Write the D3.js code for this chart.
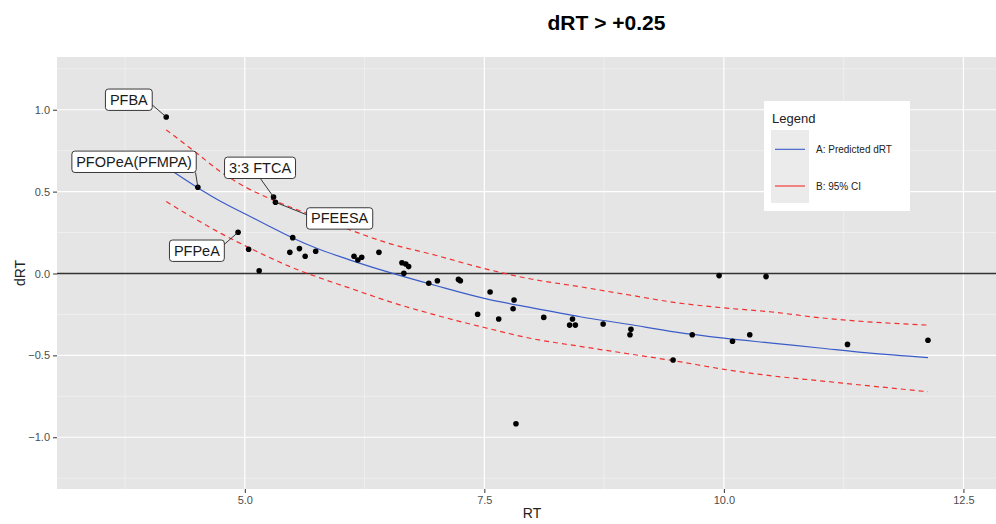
<!DOCTYPE html>
<html>
<head>
<meta charset="utf-8">
<script src="https://cdn.jsdelivr.net/npm/d3@7"></script>
<style>
  body { margin: 0; background: #fff; }
  svg { display: block; font-family: "Liberation Sans", Arial, sans-serif; }
</style>
</head>
<body>
<svg id="svg" width="996" height="524"></svg>
<script>
// measured points: retention time and dRT
var rtValues = [4.18, 4.51, 5.30, 5.32, 4.93, 5.04, 5.15, 5.50, 5.47, 5.57, 5.63, 5.74,
    6.14, 6.18, 6.22, 6.40, 6.64, 6.68, 6.71, 6.66, 6.92, 7.01, 7.23, 7.25, 7.56, 7.43,
    7.65, 7.81, 7.80, 8.12, 8.42, 8.39, 8.45, 8.74, 9.03, 9.02, 9.47, 9.67, 9.95, 10.09,
    10.27, 10.44, 11.29, 12.13, 7.83];
var drtValues = [0.956, 0.527, 0.467, 0.435, 0.252, 0.148, 0.017, 0.219, 0.129, 0.152, 0.105, 0.136,
    0.105, 0.082, 0.099, 0.129, 0.066, 0.058, 0.042, 0.001, -0.060, -0.044, -0.036, -0.044, -0.113, -0.249,
    -0.278, -0.162, -0.215, -0.268, -0.278, -0.315, -0.315, -0.308, -0.341, -0.374, -0.528, -0.374, -0.013, -0.414,
    -0.374, -0.019, -0.433, -0.408, -0.918];

// labelled compounds (index into the point arrays)
var labelNames = ['PFBA', 'PFOPeA(PFMPA)', '3:3 FTCA', 'PFEESA', 'PFPeA'];
var labelIndex = [0, 1, 2, 3, 4];

// fitted curve and 95% interval
var fitRT = [4.18, 4.5, 4.75, 5.0, 5.25, 5.5, 5.75, 6.1, 6.5, 7.0, 7.5, 8.0, 8.5, 9.0, 9.5, 10.0, 10.5, 11.0, 11.5, 12.13];
var fitPred = [0.65, 0.527, 0.44, 0.365, 0.29, 0.217, 0.154, 0.082, 0.008, -0.075, -0.152, -0.21, -0.264, -0.31, -0.358, -0.395, -0.425, -0.455, -0.485, -0.514];
var fitUpper = [0.877, 0.734, 0.62, 0.53, 0.46, 0.40, 0.345, 0.266, 0.185, 0.11, 0.03, -0.035, -0.081, -0.13, -0.178, -0.21, -0.235, -0.27, -0.295, -0.315];
var fitLower = [0.439, 0.327, 0.245, 0.17, 0.10, 0.035, -0.02, -0.09, -0.17, -0.255, -0.33, -0.398, -0.445, -0.49, -0.535, -0.585, -0.625, -0.655, -0.685, -0.722];

var xTicks = [5.0, 7.5, 10.0, 12.5];
var xMinor = [3.75, 6.25, 8.75, 11.25];
var yTicks = [-1.0, -0.5, 0.0, 0.5, 1.0];
var yMinor = [-1.25, -0.75, -0.25, 0.25, 0.75, 1.25];

var legendLabels = ['A: Predicted dRT', 'B: 95% CI'];

// label box placement relative to its point (pixels): box centre, segment end
var labelLayout = [
    { box: [-37.4, -17.2], seg: [-14, -12] },
    { box: [-63.8, -25.4], seg: [-2.3, -14.6] },
    { box: [-13.5, -29.2], seg: [-13.3, -18.7] },
    { box: [64.2, 16.2], seg: [31.7, 12.7] },
    { box: [-41.2, 18.5], seg: [-14.4, 12.7] }
];

var svg = d3.select('#svg');
var panel = { left: 57, right: 996, top: 57, bottom: 489 };
var blue = '#3a5cc8', red = '#f2302f';

var x = d3.scaleLinear().domain([3.04, 12.84]).range([panel.left, panel.right]);
var y = d3.scaleLinear().domain([-1.316, 1.322]).range([panel.bottom, panel.top]);

// panel background
svg.append('rect')
    .attr('x', panel.left).attr('y', panel.top)
    .attr('width', panel.right - panel.left).attr('height', panel.bottom - panel.top)
    .attr('fill', '#e5e5e5');

var grid = svg.append('g');
grid.selectAll('.vminor').data(xMinor).enter().append('line')
    .attr('x1', x).attr('x2', x).attr('y1', panel.top).attr('y2', panel.bottom)
    .attr('stroke', '#f5f5f5').attr('stroke-width', 0.6);
grid.selectAll('.hminor').data(yMinor).enter().append('line')
    .attr('y1', y).attr('y2', y).attr('x1', panel.left).attr('x2', panel.right)
    .attr('stroke', '#f5f5f5').attr('stroke-width', 0.6);
grid.selectAll('.vmajor').data(xTicks).enter().append('line')
    .attr('x1', x).attr('x2', x).attr('y1', panel.top).attr('y2', panel.bottom)
    .attr('stroke', '#fff').attr('stroke-width', 1.2);
grid.selectAll('.hmajor').data(yTicks).enter().append('line')
    .attr('y1', y).attr('y2', y).attr('x1', panel.left).attr('x2', panel.right)
    .attr('stroke', '#fff').attr('stroke-width', 1.2);

// reference line at 0
svg.append('line')
    .attr('x1', panel.left).attr('x2', panel.right)
    .attr('y1', y(0)).attr('y2', y(0))
    .attr('stroke', '#333').attr('stroke-width', 1.3);

// axes
var xAxis = svg.append('g')
    .attr('transform', 'translate(0,' + panel.bottom + ')')
    .call(d3.axisBottom(x).tickValues(xTicks).tickFormat(d3.format('.1f')).tickSize(4).tickPadding(3));
var yAxis = svg.append('g')
    .attr('transform', 'translate(' + panel.left + ',0)')
    .call(d3.axisLeft(y).tickValues(yTicks).tickFormat(d3.format('.1f')).tickSize(4).tickPadding(3));
[xAxis, yAxis].forEach(function (a) {
    a.select('.domain').remove();
    a.selectAll('.tick line').attr('stroke', '#333');
    a.selectAll('.tick text').attr('fill', '#4d4d4d').style('font-size', '11px')
        .style('font-family', '"Liberation Sans", Arial, sans-serif');
});

// fitted lines
function curveLine(vals) {
    return d3.line()
        .x(function (d, i) { return x(fitRT[i]); })
        .y(function (d) { return y(d); })
        .curve(d3.curveMonotoneX)(vals);
}
svg.append('path').attr('d', curveLine(fitUpper))
    .attr('fill', 'none').attr('stroke', red).attr('stroke-width', 1.2).attr('stroke-dasharray', '5,4');
svg.append('path').attr('d', curveLine(fitLower))
    .attr('fill', 'none').attr('stroke', red).attr('stroke-width', 1.2).attr('stroke-dasharray', '5,4');
svg.append('path').attr('d', curveLine(fitPred))
    .attr('fill', 'none').attr('stroke', blue).attr('stroke-width', 1.2);

// points
svg.append('g').selectAll('circle')
    .data(rtValues).enter().append('circle')
    .attr('cx', function (d) { return x(d); })
    .attr('cy', function (d, i) { return y(drtValues[i]); })
    .attr('r', 2.8)
    .attr('fill', '#000');

// repelled labels
var labels = svg.append('g').selectAll('g')
    .data(labelNames).enter().append('g');
labels.each(function (name, i) {
    var k = labelIndex[i];
    var px = x(rtValues[k]), py = y(drtValues[k]);
    var lay = labelLayout[i];
    var g = d3.select(this);
    g.append('line')
        .attr('x1', px).attr('y1', py)
        .attr('x2', px + lay.seg[0]).attr('y2', py + lay.seg[1])
        .attr('stroke', '#222').attr('stroke-width', 0.9);
    var rect = g.append('rect');
    var t = g.append('text')
        .attr('x', px + lay.box[0]).attr('y', py + lay.box[1] + 5)
        .attr('text-anchor', 'middle')
        .style('font-size', '14.5px')
        .attr('fill', '#1a1a1a')
        .text(name);
    var bb = t.node().getBBox();
    var cx = px + lay.box[0], cy = py + lay.box[1];
    rect.attr('x', cx - bb.width / 2 - 4.3).attr('y', cy - 10.7)
        .attr('width', bb.width + 8.6).attr('height', 21.4)
        .attr('rx', 3).attr('ry', 3)
        .attr('fill', '#fff').attr('stroke', '#222').attr('stroke-width', 0.9);
});

// legend
var lg = svg.append('g').attr('transform', 'translate(764,101)');
lg.append('rect').attr('width', 146).attr('height', 110).attr('fill', '#fff');
lg.append('text').attr('x', 8).attr('y', 22).style('font-size', '13px').attr('fill', '#222').text('Legend');
lg.append('rect').attr('x', 7).attr('y', 29).attr('width', 38).attr('height', 73).attr('fill', '#ebebeb');
lg.selectAll('.key').data(legendLabels).enter().append('g')
    .attr('transform', function (d, i) { return 'translate(0,' + (48.3 + i * 36.7) + ')'; })
    .each(function (d, i) {
        var k = d3.select(this);
        k.append('line').attr('x1', 11).attr('x2', 41).attr('y1', 0).attr('y2', 0)
            .attr('stroke', i === 0 ? blue : red).attr('stroke-width', 1.1);
        k.append('text').attr('x', 52).attr('y', 4).style('font-size', '10px').attr('fill', '#222').text(d);
    });

// titles
svg.append('text').attr('x', 606.5).attr('y', 30).attr('text-anchor', 'middle')
    .style('font-size', '21px').style('font-weight', 'bold').attr('fill', '#000').text('dRT > +0.25');
svg.append('text').attr('x', 532).attr('y', 518).attr('text-anchor', 'middle')
    .style('font-size', '14px').attr('fill', '#222').text('RT');
svg.append('text').attr('transform', 'translate(25,273) rotate(-90)').attr('text-anchor', 'middle')
    .style('font-size', '14px').attr('fill', '#222').text('dRT');
</script>
</body>
</html>
